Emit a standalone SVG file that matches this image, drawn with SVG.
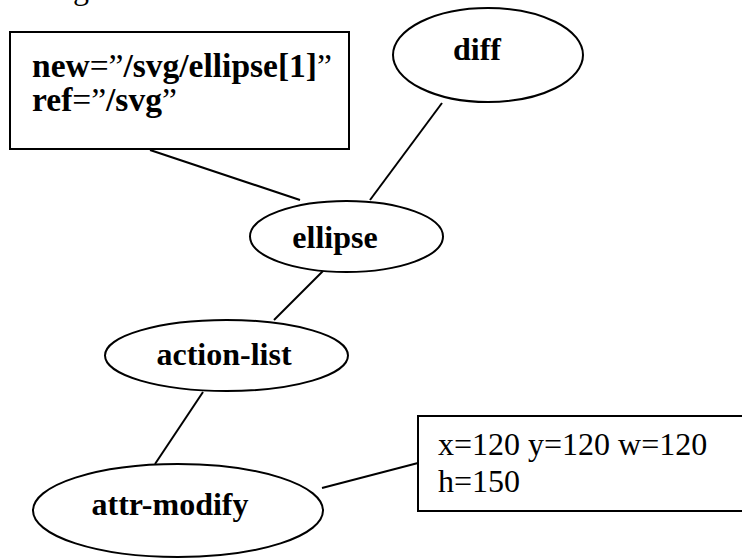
<svg xmlns="http://www.w3.org/2000/svg" width="742" height="558" viewBox="0 0 742 558">
  <style>
    .shape { fill: #ffffff; stroke: #000000; stroke-width: 2; }
    .edge { fill: none; stroke: #000000; stroke-width: 2; }
    text { font-family: "Liberation Serif", "Times New Roman", serif; fill: #000000; }
    .lbl { font-size: 32px; font-weight: bold; text-anchor: middle; }
    .note { font-size: 33.5px; }
    .plain { font-size: 32px; }
    .b { font-weight: bold; }
  </style>
  <rect width="742" height="558" fill="#ffffff"/>

  <!-- tail of the caption line above the drawing -->
  <text x="73" y="-1" font-size="32">g</text>

  <g id="connectors">
    <line class="edge" x1="150" y1="150" x2="300" y2="200"/>
    <line class="edge" x1="442" y1="103" x2="370" y2="200"/>
    <line class="edge" x1="323" y1="271" x2="274" y2="320"/>
    <line class="edge" x1="203" y1="392" x2="155" y2="464"/>
    <line class="edge" x1="322" y1="488" x2="418" y2="463"/>
  </g>

  <g id="node-ref">
    <rect class="shape" x="10" y="32" width="339" height="117"/>
    <text class="note" x="32" y="77"><tspan class="b">new</tspan>=”<tspan class="b">/svg/ellipse[1]</tspan>”</text>
    <text class="note" x="32" y="111"><tspan class="b">ref</tspan>=”<tspan class="b">/svg</tspan>”</text>
  </g>

  <g id="node-diff">
    <ellipse class="shape" cx="488" cy="55" rx="95" ry="47"/>
    <text class="lbl" x="477" y="60">diff</text>
  </g>

  <g id="node-ellipse">
    <ellipse class="shape" cx="346.5" cy="236.5" rx="96.5" ry="35.5"/>
    <text class="lbl" x="335" y="248">ellipse</text>
  </g>

  <g id="node-action-list">
    <ellipse class="shape" cx="226.5" cy="355.5" rx="121.5" ry="35.5"/>
    <text class="lbl" x="224" y="365">action-list</text>
  </g>

  <g id="node-attr-modify">
    <ellipse class="shape" cx="178" cy="510.5" rx="145" ry="46.5"/>
    <text class="lbl" x="170" y="515">attr-modify</text>
  </g>

  <g id="node-attrs">
    <rect class="shape" x="418" y="416" width="330" height="95"/>
    <text class="plain" x="438" y="455">x=120 y=120 w=120</text>
    <text class="plain" x="438" y="492">h=150</text>
  </g>
</svg>
